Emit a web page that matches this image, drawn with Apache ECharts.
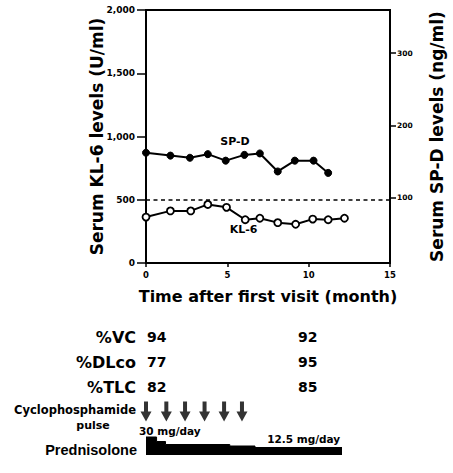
<!DOCTYPE html>
<html><head><meta charset="utf-8">
<script src="https://cdn.jsdelivr.net/npm/echarts@6/dist/echarts.min.js"></script>
<style>html,body{margin:0;padding:0;background:#fff}#c{width:453px;height:473px}</style>
</head><body><div id="c"></div>
<script>
// ---- data ----
const spdMonths = [0, 1.5, 2.7, 3.8, 4.9, 6.05, 7.0, 8.1, 9.15, 10.3, 11.2];
const spdValues = [162, 158, 155, 160, 151, 159, 161, 136, 151, 151, 134];
const kl6Months = [0, 1.5, 2.75, 3.8, 4.95, 6.1, 7.0, 8.1, 9.2, 10.25, 11.2, 12.2];
const kl6Values = [363, 412, 412, 463, 440, 342, 354, 319, 306, 347, 342, 354];
const kl6Cutoff = 500;
const kl6Ticks = [0, 500, 1000, 1500, 2000];
const spdTicks = [100, 200, 300];
const monthTicks = [0, 5, 10, 15];
const pulseMonths = [0, 1.25, 2.4, 3.6, 4.8, 5.9];
const predMonths = [0, 0.65, 1.2, 5.15, 6.7, 12.05];
const predDoses = [30, 22.5, 17.5, 15, 12.5, 12.5];
const predLabels = ['30 mg/day', '12.5 mg/day'];
const pftRows = ['%VC', '%DLco', '%TLC'];
const pftFirst = [94, 77, 82];
const pftLast = [92, 95, 85];
const pftMonths = [0, 9.35];

const F = 'DejaVu Sans';
const chart = echarts.init(document.getElementById('c'), null, {renderer: 'svg'});

chart.setOption({
  animation: false,
  backgroundColor: '#fff',
  grid: [
    {left: 146, right: 63, top: 10, bottom: 210, show: true, borderColor: '#000', borderWidth: 2},
    {left: 146, right: 63, top: 425, bottom: 18},
    {left: 146, right: 63, top: 401, height: 21}
  ],
  xAxis: [
    {gridIndex: 0, type: 'value', min: monthTicks[0], max: monthTicks[monthTicks.length - 1], interval: 5,
     axisLine: {show: true, onZero: false, lineStyle: {color: '#000', width: 2}},
     axisTick: {show: true, length: 4, lineStyle: {color: '#000', width: 1.5}},
     axisLabel: {fontSize: 8.5, fontWeight: 'bold', color: '#000', margin: 7, fontFamily: F},
     splitLine: {show: false},
     name: 'Time after first visit (month)', nameLocation: 'middle', nameGap: 25, nameMoveOverlap: false,
     nameTextStyle: {fontSize: 16, fontWeight: 'bold', color: '#000', fontFamily: F}},
    {gridIndex: 1, type: 'value', min: 0, max: 15, show: false},
    {gridIndex: 2, type: 'value', min: 0, max: 15, show: false}
  ],
  yAxis: [
    {gridIndex: 0, type: 'value', position: 'left', min: kl6Ticks[0], max: kl6Ticks[kl6Ticks.length - 1], interval: 500,
     axisLine: {show: true, onZero: false, lineStyle: {color: '#000', width: 2}},
     axisTick: {show: true, length: 9, lineStyle: {color: '#000', width: 1.5}},
     axisLabel: {fontSize: 9, fontWeight: 'bold', color: '#000', margin: 11, fontFamily: F,
                 formatter: v => v.toLocaleString('en-US')},
     splitLine: {show: false},
     name: 'Serum KL-6 levels (U/ml)', nameLocation: 'middle', nameRotate: 90, nameGap: 41, nameMoveOverlap: false,
     nameTextStyle: {fontSize: 17, fontWeight: 'bold', color: '#000', fontFamily: F}},
    {gridIndex: 0, type: 'value', position: 'right', min: 9, max: 360,
     axisLine: {show: true, onZero: false, lineStyle: {color: '#000', width: 2}},
     axisTick: {show: true, length: 6, customValues: spdTicks, lineStyle: {color: '#000', width: 1.5}},
     axisLabel: {fontSize: 7.5, fontWeight: 'bold', color: '#000', margin: 7, fontFamily: F, customValues: spdTicks},
     splitLine: {show: false},
     name: 'Serum SP-D levels (ng/ml)', nameLocation: 'middle', nameRotate: 90, nameGap: 38, nameMoveOverlap: false,
     nameTextStyle: {fontSize: 17, fontWeight: 'bold', color: '#000', fontFamily: F}},
    {gridIndex: 1, type: 'value', min: 0, max: 50, show: false},
    {gridIndex: 2, type: 'value', min: 0, max: 1, show: false}
  ],
  series: [
    {name: 'SP-D', type: 'line', xAxisIndex: 0, yAxisIndex: 1,
     data: spdMonths.map((m, i) => [m, spdValues[i]]),
     symbol: 'circle', symbolSize: 7, showAllSymbol: true,
     lineStyle: {color: '#000', width: 2}, itemStyle: {color: '#000', borderColor: '#000', borderWidth: 1}},
    {name: 'KL-6', type: 'line', xAxisIndex: 0, yAxisIndex: 0,
     data: kl6Months.map((m, i) => [m, kl6Values[i]]),
     symbol: 'circle', symbolSize: 7, showAllSymbol: true,
     lineStyle: {color: '#000', width: 2}, itemStyle: {color: '#fff', borderColor: '#000', borderWidth: 1.8},
     markLine: {silent: true, symbol: 'none', label: {show: false},
       lineStyle: {color: '#000', width: 1.6, type: [4, 3.5]},
       data: [{yAxis: kl6Cutoff}]}},
    {name: 'Prednisolone', type: 'line', xAxisIndex: 1, yAxisIndex: 2, step: 'end',
     data: predMonths.map((m, i) => [m, predDoses[i]]),
     symbol: 'none', lineStyle: {color: '#000', width: 1}, areaStyle: {color: '#000', opacity: 1}},
    {name: 'Cyclophosphamide pulse', type: 'scatter', xAxisIndex: 2, yAxisIndex: 3,
     data: pulseMonths.map(m => [m, 0.5]),
     symbol: 'path://M3,0 L7,0 L7,10 L10.5,10 L5,20 L-0.5,10 L3,10 Z', symbolSize: [11, 20],
     itemStyle: {color: '#000'}}
  ]
});

// annotations and table, positioned through the chart's own x scale
const px = m => chart.convertToPixel({xAxisIndex: 0}, m);
const rowsY = [337, 362, 387];
const g = [];
const txt = (x, y, text, size, align, weight, fam) => g.push({
  type: 'text', x: x, y: y,
  style: {text: text, fontSize: size, fontFamily: fam || F, fontWeight: weight || 'bold', fill: '#000',
          align: align || 'left', verticalAlign: 'middle'}
});
txt(235, 141, 'SP-D', 11, 'center');
txt(243.5, 229, 'KL-6', 11, 'center');
pftRows.forEach((r, i) => {
  txt(136, rowsY[i], r, 16, 'right');
  txt(px(pftMonths[0]) + 1, rowsY[i], String(pftFirst[i]), 14, 'left');
  txt(px(pftMonths[1]), rowsY[i], String(pftLast[i]), 14, 'left');
});
txt(136, 410, 'Cyclophosphamide', 11.5, 'right');
txt(93, 425, 'pulse', 11, 'center');
txt(px(0) - 7, 430.5, predLabels[0], 10.5, 'left');
txt(px(7.45), 438.5, predLabels[1], 10.5, 'left');
txt(137, 449.5, 'Prednisolone', 14.5, 'right', 'bold', 'Liberation Sans');
chart.setOption({graphic: g});
</script>
</body></html>
